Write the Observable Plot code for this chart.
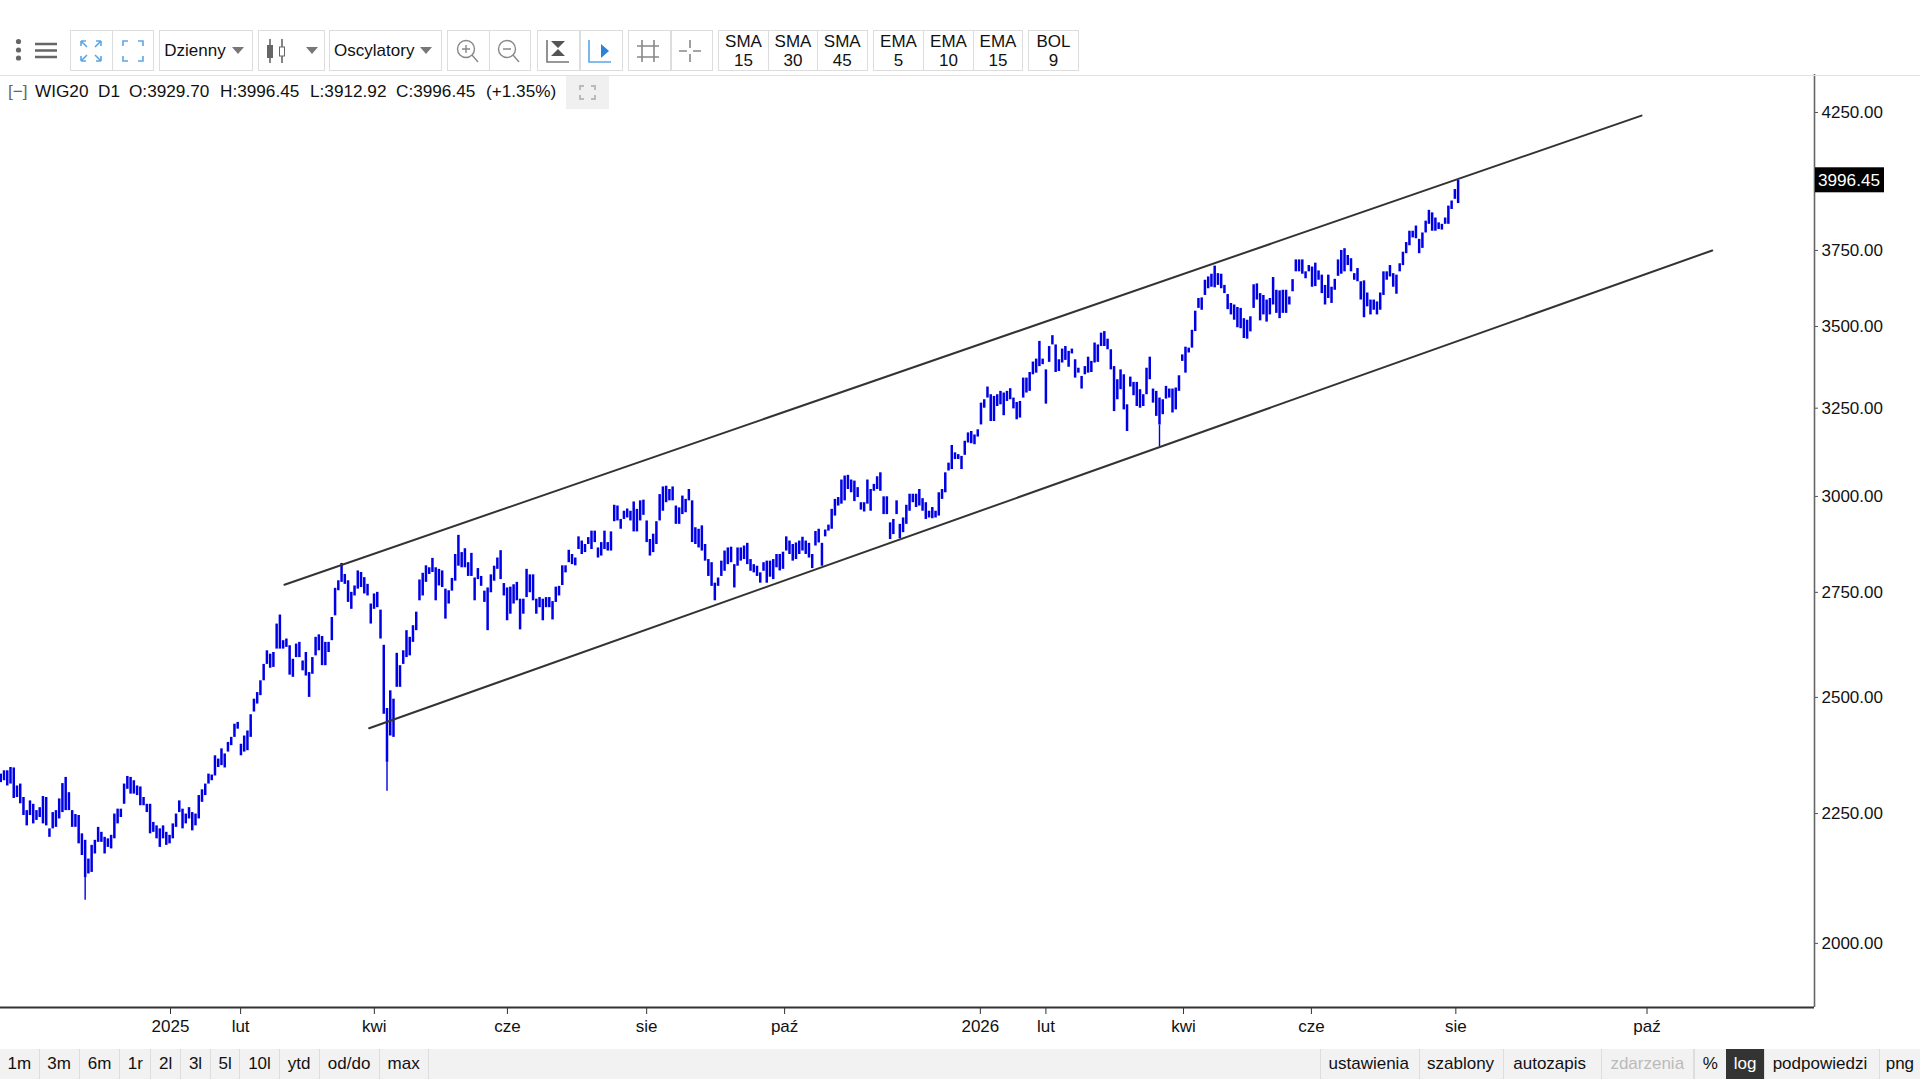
<!DOCTYPE html>
<html lang="pl">
<head>
<meta charset="utf-8">
<title>WIG20</title>
<script src="https://cdn.jsdelivr.net/npm/d3@7"></script>
<script src="https://cdn.jsdelivr.net/npm/@observablehq/plot@0.6"></script>
<style>
html,body{margin:0;padding:0;background:#fff;width:1920px;height:1080px;overflow:hidden}
body{position:relative;font-family:"Liberation Sans",Arial,sans-serif;font-size:17px;color:#111}
.abs{position:absolute}
.cell{position:absolute;box-sizing:border-box;display:flex;align-items:center;justify-content:center;white-space:nowrap;text-align:center}
.btn{top:30px;height:41px;border:1.5px solid #ddd;background:#fff;line-height:19px}
.bot{top:1049px;height:30px;border-right:1px solid #ddd}
#legend span{position:absolute;top:0;white-space:nowrap;line-height:24px;font-size:17.2px}
svg.ic{display:block}
</style>
</head>
<body>
<div id="toolbar"></div>
<div id="chart" class="abs" style="left:0;top:74px"></div>
<div class="abs" style="left:0;top:74.5px;width:1920px;height:1.5px;background:#e2e2e2"></div>
<div id="legend" class="abs" style="left:0;top:79px;height:24px;width:620px"></div>
<div id="bottombar" class="abs" style="left:0;top:1049px;width:1920px;height:30px;background:#f2f2f2"></div>
<script>
// Price bars: one entry per session, oldest first.
const highJan = [2328,2332,2339,2339,2346,2345,2307,2311,2283,2256,2276,2269,2256,2262,2285,2283,2219,2252,2256,2280,2312,2325,2293,2256,2248,2246,2209,2196,2159,2186,2196,2222,2212,2202,2199,2206,2249,2259,2259,2311,2327,2325,2318,2307,2305,2283,2269,2269,2232,2225,2219,2225,2212,2206,2229,2249,2276,2259,2249,2262,2252,2249,2287,2299,2311,2332,2330,2371,2364,2386,2375,2400,2411,2440,2444,2396,2414,2425,2461,2496,2511,2538,2576,2608,2600,2604,2672,2694,2632,2636,2620,2588,2624,2628,2584,2604,2557,2592,2640,2646,2642,2628,2628,2688,2760,2779,2823,2795,2779,2750,2766,2804,2800,2787,2770,2721,2746,2750,2706,2621,2475,2515,2496,2602,2573,2608,2656,2640,2668,2701,2781,2798,2817,2812,2836,2812,2808,2804,2758,2754];
const lowJan = [2301,2314,2318,2307,2311,2281,2283,2270,2246,2225,2246,2229,2236,2242,2229,2225,2202,2219,2222,2239,2252,2256,2256,2222,2222,2189,2166,2123,2130,2133,2169,2192,2192,2169,2182,2179,2199,2229,2242,2269,2300,2290,2290,2287,2266,2266,2252,2209,2212,2199,2182,2199,2186,2189,2199,2222,2252,2219,2229,2239,2215,2225,2239,2273,2287,2311,2318,2328,2346,2350,2345,2379,2393,2411,2429,2371,2379,2382,2411,2467,2485,2504,2538,2576,2567,2569,2612,2612,2612,2616,2551,2546,2592,2592,2561,2549,2500,2553,2596,2608,2573,2573,2604,2632,2692,2754,2775,2770,2725,2708,2741,2758,2762,2746,2741,2672,2708,2712,2636,2462,2357,2414,2411,2523,2523,2576,2592,2596,2628,2656,2729,2741,2775,2795,2800,2729,2766,2762,2684,2721];
const highMid = [2785,2846,2896,2851,2861,2825,2849,2786,2810,2790,2753,2761,2794,2816,2837,2856,2772,2761,2763,2769,2775,2733,2733,2808,2794,2794,2733,2737,2733,2737,2737,2727,2763,2765,2817,2817,2857,2846,2837,2892,2881,2872,2890,2907,2907,2863,2877,2907,2877,2905,2976,2974,2938,2960,2966,2960,2985,2965,2988,2990,2934,2885,2899,2932,3005,3026,3028,3019,3026,2974,2969,3001,2992,3019,2988,2916,2912,2921,2872,2833,2825,2773,2786,2829,2855,2863,2865,2820,2863,2863,2868,2875,2833,2820,2816,2799,2825,2829];
const lowMid = [2753,2778,2816,2812,2812,2790,2790,2729,2782,2765,2725,2656,2749,2778,2808,2782,2741,2680,2696,2721,2729,2658,2696,2737,2749,2729,2696,2712,2680,2712,2712,2682,2725,2741,2767,2799,2825,2820,2817,2859,2846,2851,2872,2859,2877,2837,2842,2859,2855,2855,2932,2934,2912,2938,2942,2934,2905,2905,2934,2949,2877,2842,2851,2872,2934,2960,2983,2988,2988,2925,2925,2951,2956,2988,2877,2872,2863,2855,2829,2790,2765,2729,2765,2790,2803,2820,2825,2761,2816,2829,2833,2820,2803,2799,2790,2773,2803,2773];
const highAut = [2829,2833,2846,2846,2852,2892,2881,2872,2876,2881,2891,2881,2875,2846,2906,2912,2875,2910,2923,2965,2992,2997,3045,3056,3058,3045,3042,3024,2983,2983,3045,3019,3033,3054,3065,2999,2999,2929,2938,2988,2925,2942,2976,3006,3006,3006,3019,2994,2983,2960,2970,2960,3010,3019,3065,3092,3142,3121,3116,3111,3154];
const lowAut = [2788,2782,2812,2804,2808,2855,2846,2829,2833,2846,2855,2846,2837,2810,2868,2876,2816,2892,2907,2912,2947,2974,2979,2988,3019,3010,2986,2997,2963,2958,2979,2960,3014,3019,3014,2951,2951,2885,2898,2951,2887,2903,2925,2960,2983,2970,2974,2960,2938,2942,2940,2942,2947,2992,3010,3070,3074,3102,3102,3074,3114];
const highWin = [3178,3182,3172,3187,3265,3275,3313,3290,3285,3290,3300,3295,3300,3308,3280,3267,3270,3340,3340,3357,3389,3398,3453,3398,3365,3437,3471,3442,3396,3429,3437,3422,3429,3396,3370,3345,3375,3404,3391,3448,3442,3479,3484,3460,3427,3375,3335,3365,3350,3260,3343,3327,3327,3305,3290,3370,3404,3307,3300,3280,3275,3315,3307,3307,3310,3347,3411,3435,3432,3488,3549];
const lowWin = [3149,3147,3144,3166,3201,3250,3280,3211,3211,3255,3260,3228,3270,3275,3248,3216,3221,3280,3295,3300,3350,3355,3375,3381,3262,3388,3442,3357,3360,3386,3394,3373,3414,3340,3355,3307,3350,3355,3357,3386,3388,3437,3437,3427,3365,3240,3275,3305,3245,3182,3313,3287,3255,3250,3255,3290,3335,3265,3226,3201,3231,3277,3280,3236,3245,3300,3391,3355,3417,3432,3484];
const highSpr = [3590,3592,3650,3661,3670,3697,3672,3670,3633,3603,3574,3569,3561,3558,3525,3520,3531,3635,3638,3606,3600,3585,3590,3659,3617,3615,3617,3617,3595,3652,3718,3718,3718,3678,3699,3694,3707,3681,3667,3633,3667,3627,3653,3718,3750,3756,3733,3722,3672,3689,3645,3648,3608,3585,3585,3579,3608,3678,3678,3699,3672,3667,3705,3744];
const lowSpr = [3558,3552,3600,3622,3627,3625,3633,3622,3606,3554,3537,3520,3496,3493,3462,3460,3483,3558,3585,3518,3537,3514,3537,3569,3542,3525,3542,3542,3569,3612,3678,3678,3670,3655,3678,3627,3629,3650,3606,3569,3590,3574,3617,3663,3670,3678,3699,3678,3650,3645,3585,3528,3563,3537,3552,3537,3552,3600,3650,3661,3627,3604,3678,3699];
const highEnd = [3777,3816,3816,3834,3788,3810,3851,3889,3880,3862,3845,3840,3862,3904,3922,3963,3996.45];
const lowEnd = [3739,3766,3793,3790,3739,3757,3810,3840,3816,3816,3822,3820,3840,3840,3892,3928,3912.92];

// Long thin wicks below the thick part of a bar.
const wickBars = [27, 120, 358];
const wickLows = [2080, 2296, 3139];
const wickTops = [2123, 2357, 3201];

// Channel lines: bar number and price at each end.
const upperBars = [88.4, 506.5];
const upperPrices = [2769, 4238];
const lowerBars = [114.5, 528.3];
const lowerPrices = [2431, 3750];

// Axes.
const priceTicks = [2000,2250,2500,2750,3000,3250,3500,3750,4250];
const timeTickBars = [53.3,74.9,116.1,157.1,200,242.5,302.8,323,365.4,404.8,449.3,508.2];
const timeTickLabels = ["2025","lut","kwi","cze","sie","paź","2026","lut","kwi","cze","sie","paź"];
const lastClose = 3996.45;

// Toolbar and footer text.
const smaLabels = [["SMA","15"],["SMA","30"],["SMA","45"]];
const emaLabels = [["EMA","5"],["EMA","10"],["EMA","15"]];
const bolLabels = [["BOL","9"]];
const rangeLabels = ["1m","3m","6m","1r","2l","3l","5l","10l","ytd","od/do","max"];
const rightLabels = ["ustawienia","szablony","autozapis","zdarzenia","%","log","podpowiedzi","png"];
const legendParts = ["[−]","WIG20","D1","O:3929.70","H:3996.45","L:3912.92","C:3996.45","(+1.35%)"];

const high = [...highJan,...highMid,...highAut,...highWin,...highSpr,...highEnd];
const low = [...lowJan,...lowMid,...lowAut,...lowWin,...lowSpr,...lowEnd];
const bars = high.map((h,i)=>({i,h,l:low[i]}));
const wicks = wickBars.map((b,k)=>({i:b,l:wickLows[k],t:wickTops[k]}));
const upper = upperBars.map((b,k)=>({b,p:upperPrices[k]}));
const lower = lowerBars.map((b,k)=>({b,p:lowerPrices[k]}));

const xDomain = [0.92, 559.8], yDomain = [1887, 4399];
const chart = Plot.plot({
  width:1920, height:975, marginLeft:0, marginRight:106, marginTop:0, marginBottom:42,
  style:{fontFamily:'"Liberation Sans",Arial,sans-serif',fontSize:"17px",color:"#111",background:"transparent",overflow:"visible"},
  x:{domain:xDomain, label:null},
  y:{type:"log", domain:yDomain, label:null},
  marks:[
    Plot.ruleX(bars,{x:"i",y1:"l",y2:"h",stroke:"#0000e6",strokeWidth:2.5}),
    Plot.ruleX(wicks,{x:"i",y1:"l",y2:"t",stroke:"#0000e6",strokeWidth:1.4}),
    Plot.line(upper,{x:"b",y:"p",stroke:"#333",strokeWidth:2}),
    Plot.line(lower,{x:"b",y:"p",stroke:"#333",strokeWidth:2}),
    Plot.ruleX([xDomain[1]],{stroke:"#666",strokeWidth:1.6}),
    Plot.ruleY([yDomain[0]],{stroke:"#333",strokeWidth:1.8}),
    Plot.axisY({anchor:"right",ticks:priceTicks,tickFormat:d3.format(".2f"),tickSize:3,tickPadding:4,label:null,fontSize:17,stroke:"#555",fill:"#111"}),
    Plot.axisX({anchor:"bottom",ticks:timeTickBars,tickFormat:(d)=>timeTickLabels[timeTickBars.indexOf(d)],tickSize:7,tickPadding:5,label:null,fontSize:17,stroke:"#333",fill:"#111"})
  ]
});
document.getElementById("chart").appendChild(chart);

// Last-price tag, placed through the chart's own scales.
const ty = chart.scale("y").apply(lastClose), ax = chart.scale("x").apply(xDomain[1]);
const tag = d3.select(chart).append("g");
tag.append("rect").attr("x",ax+1).attr("y",ty-12.5).attr("width",69).attr("height",25).attr("fill","#000");
tag.append("text").attr("x",ax+35).attr("y",ty+6).attr("text-anchor","middle").attr("fill","#fff").attr("font-size",17.2).attr("font-weight",500).text(d3.format(".2f")(lastClose));

// Toolbar.
const tb = document.getElementById("toolbar");
function el(parent,cls,style,html){const d=document.createElement("div");d.className=cls;d.style.cssText=style;if(html!=null)d.innerHTML=html;parent.appendChild(d);return d;}
function btn(x0,x1,html,pad=0){return el(tb,"cell btn",`left:${x0}px;width:${x1-x0}px;padding-right:${pad}px`,html);}
const caret='<svg class="ic" width="12" height="8" style="margin-left:6px"><path d="M0 0H12L6 7Z" fill="#777"/></svg>';
function icon(inner,w=30,h=30){return `<svg class="ic" width="${w}" height="${h}" viewBox="0 0 30 30" fill="none">${inner}</svg>`;}
el(tb,"abs","left:14.5px;top:38px",'<svg class="ic" width="7" height="24"><circle cx="3.5" cy="3.5" r="2.6" fill="#666"/><circle cx="3.5" cy="12" r="2.6" fill="#666"/><circle cx="3.5" cy="20" r="2.6" fill="#666"/></svg>');
el(tb,"abs","left:35px;top:42px",'<svg class="ic" width="22" height="17"><path d="M0 2H22M0 8.5H22M0 15H22" stroke="#666" stroke-width="2.4"/></svg>');
const blue="#5aa7e8", grey="#888";
btn(70,113,icon(`<path d="M5 5l6 6M5 5h5M5 5v5M25 5l-6 6M25 5h-5M25 5v5M5 25l6-6M5 25h5M5 25v-5M25 25l-6-6M25 25h-5M25 25v-5" stroke="${blue}" stroke-width="1.6"/>`),2);
btn(112,154,icon(`<path d="M5 10V5h5M20 5h5v5M25 20v5h-5M10 25H5v-5" stroke="${blue}" stroke-width="1.6"/>`));
btn(159,253,'Dzienny'+caret,4);
btn(257.5,325,icon(`<path d="M8 3V27M20 3V27" stroke="#666" stroke-width="1.6"/><rect x="5" y="9" width="6" height="13" fill="#666"/><rect x="17.5" y="11" width="5" height="9" fill="#fff" stroke="#666"/>`)+'<span style="width:8px"></span>'+caret,2);
btn(328.5,442,'Oscylatory'+caret,4);
btn(447,490,icon(`<circle cx="14" cy="13" r="8.5" stroke="${grey}" stroke-width="1.4"/><path d="M20 19l6 7M10 13h8M14 9v8" stroke="${grey}" stroke-width="1.4"/>`),4);
btn(489,531,icon(`<circle cx="14" cy="13" r="8.5" stroke="${grey}" stroke-width="1.4"/><path d="M20 19l6 7M10 13h8" stroke="${grey}" stroke-width="1.4"/>`),4);
btn(537,580,icon(`<path d="M5 4V26H27" stroke="#777" stroke-width="1.6"/><path d="M9 5H23L16 12ZM9 20H23L16 13Z" fill="#555"/>`),3);
btn(579.5,622.5,icon(`<path d="M5 4V26H27" stroke="${blue}" stroke-width="1.6"/><path d="M17 8L25 15L17 22Z" fill="#2f80d8"/>`),4);
btn(628,671,icon(`<path d="M9 4V26M21 4V26M4 10H26M4 21H26" stroke="#888" stroke-width="1.6"/>`),3);
btn(670.5,712.5,icon(`<path d="M15 4V12M15 18V26M4 15H12M18 15H26" stroke="#888" stroke-width="1.6"/>`),3);
function stack(list,edges){list.forEach((l,k)=>btn(edges[k],edges[k+1]+1,`<span>${l[0]}<br>${l[1]}</span>`));}
stack(smaLabels,[718,768,817,866.5]);
stack(emaLabels,[873,923,973,1022]);
stack(bolLabels,[1028,1078]);

// Legend line.
const lg = document.getElementById("legend");
const legendX = [8,35,98,129,220,310,396,486];
legendParts.forEach((t,k)=>{const s=document.createElement("span");s.style.left=legendX[k]+"px";if(k===0)s.style.color="#666";s.textContent=t;lg.appendChild(s);});
el(document.body,"abs","left:566px;top:76px;width:42.5px;height:33px;background:#f0f0f0;display:flex;align-items:center;justify-content:center",
  '<svg class="ic" width="17" height="15"><path d="M1 5V1H5M12 1H16V5M16 10V14H12M5 14H1V10" stroke="#bbb" stroke-width="2" fill="none"/></svg>');

// Footer.
const bb = document.getElementById("bottombar");
const rangeEdges=[0,39.6,79.6,120.4,151.4,181,211,240.4,279.6,319.6,379.6,428.6];
rangeLabels.forEach((t,k)=>el(bb,"cell",`top:0;height:30px;left:${rangeEdges[k]}px;width:${rangeEdges[k+1]-rangeEdges[k]}px;border-right:1px solid #ddd`,t));
const rightEdges=[1319.6,1418.8,1503.3,1601,1693.5,1726,1764,1878.8,1920];
const rightPad=[2,2,6,0,0,0,4,0];
rightLabels.forEach((t,k)=>{
  let st=`top:0;height:30px;left:${rightEdges[k]}px;width:${rightEdges[k+1]-rightEdges[k]}px;padding-right:${rightPad[k]}px;`;
  if(t==="log") st+="background:#333;color:#fff;";
  else if(t==="zdarzenia") st+="color:#bbb;border-left:1px solid #ddd;border-right:1px solid #ddd;";
  else st+="border-left:1px solid #ddd;";
  el(bb,"cell",st,t);
});
</script>
</body>
</html>
